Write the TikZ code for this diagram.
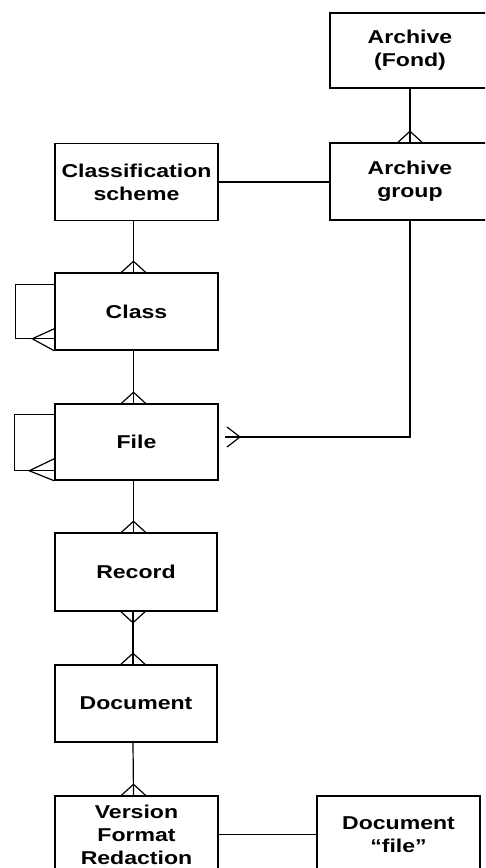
\documentclass[tikz,border=0pt]{standalone}
\usepackage{fontspec}
\newfontfamily\boxfont{Liberation Sans}[FakeStretch=1.24]
\usetikzlibrary{calc}
\tikzset{
  entity/.style={draw, line width=1.5pt, minimum width=163pt, minimum height=77pt,
    align=center, inner sep=0pt,
    font=\boxfont\bfseries\fontsize{18.6pt}{23pt}\selectfont},
  link/.style={line width=1.2pt, line join=miter},
}
\newcommand{\crowtop}[2]{%
  \draw[link] ($(#1.north)+(#2-12,0)$) -- ($(#1.north)+(#2,-11)$) -- ($(#1.north)+(#2+12,0)$);}
\newcommand{\crowbottom}[2]{%
  \draw[link] ($(#1.south)+(#2-12,0)$) -- ($(#1.south)+(#2,11)$) -- ($(#1.south)+(#2+12,0)$);}
\begin{document}
\begin{tikzpicture}[x=1pt,y=-1pt]
\clip (0,0) rectangle (485,868);
% entities
\node[entity, minimum width=160pt, minimum height=75pt] (fond) at (410,50.5) {Archive\\(Fond)};
\node[entity, minimum width=160pt] (agroup) at (410,181.5) {Archive\\group};
\node[entity] (cscheme) at (136.5,182) {Classification\\scheme};
\node[entity] (class) at (136.5,311.5) {Class};
\node[entity, minimum height=76pt] (file) at (136.5,442) {File};
\node[entity, minimum width=162pt, minimum height=78pt] (record) at (136,572) {Record};
\node[entity, minimum width=162pt] (document) at (136,703.5) {Document};
\node[entity] (version) at (136.5,834.5) {Version\\Format\\Redaction};
\node[entity] (docfile) at (398.5,834.5) {Document\\“file”};
% archive -> archive group
\draw[link] (fond.south) -- (agroup.north);
\crowtop{agroup}{0}
% classification scheme -- archive group
\draw[link] (cscheme.east) -- (cscheme.east -| agroup.west);
% vertical chain
\draw[link] ([xshift=-3pt]cscheme.south) -- ([xshift=-3pt]class.north);
\crowtop{class}{-3}
\draw[link] ([xshift=-3pt]class.south) -- ([xshift=-3pt]file.north);
\crowtop{file}{-3}
\draw[link] ([xshift=-3pt]file.south) -- ([xshift=-3pt]file.south |- record.north);
\crowtop{record}{-2.5}
\draw[link] ([xshift=-3pt]record.south) -- ([xshift=-3pt]document.north);
\crowbottom{record}{-3}
\crowtop{document}{-3}
\draw[link] ([xshift=-3pt]document.south) -- ([xshift=-3pt]version.north);
\crowtop{version}{-3}
% version -- document file
\draw[link] (version.east) -- (docfile.west);
% archive group -> file
\coordinate (corner) at (410,437);
\coordinate (ftip) at (225,437);
\draw[link] (agroup.south) -- (corner) -- (ftip);
\draw[link] ($(ftip)+(2,-10)$) -- ($(ftip)+(15,0)$) -- ($(ftip)+(2,10)$);
% self loop on Class
\coordinate (cl1) at ([yshift=-12pt]class.north west);
\coordinate (cl2) at ([yshift=12pt]class.south west);
\draw[link] (cl1) -- ++(-39,0) |- (cl2);
\draw[link] ([yshift=10pt]cl2) -- ([xshift=-22pt]cl2) -- ([yshift=-12pt]cl2);
% self loop on File
\coordinate (fl1) at ([yshift=-11pt]file.north west);
\coordinate (fl2) at ([yshift=10pt]file.south west);
\draw[link] (fl1) -- ++(-40,0) |- (fl2);
\draw[link] ([yshift=12pt]fl2) -- ([xshift=-25pt]fl2) -- ([yshift=-10pt]fl2);
\end{tikzpicture}
\end{document}
